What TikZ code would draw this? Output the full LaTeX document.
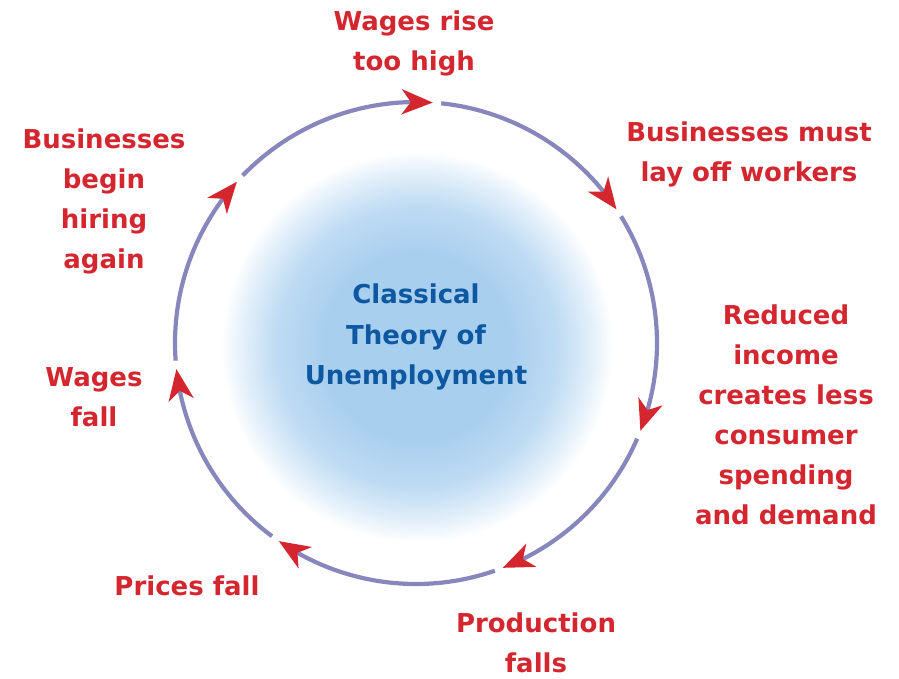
\documentclass[tikz,border=0pt]{standalone}
\usepackage{fontspec}
\setmainfont{DejaVu Sans}
\usetikzlibrary{arrows.meta,bending}

\definecolor{cycleline}{HTML}{8787BD}
\definecolor{cyclered}{HTML}{D4262F}
\definecolor{theoryblue}{HTML}{0E58A2}
\definecolor{glowblue}{HTML}{A9CFEF}

% soft blue glow behind the title (25bp is the edge of the shaded path)
\pgfdeclareradialshading{glow}{\pgfpointorigin}{color(0bp)=(glowblue); color(12bp)=(glowblue); color(18bp)=(glowblue!75!white); color(22.5bp)=(glowblue!30!white); color(25bp)=(white); color(50bp)=(white)}

\tikzset{
	step label/.style={text=cyclered, font=\fontsize{26}{40}\selectfont\bfseries, align=center},
	title label/.style={text=theoryblue, font=\fontsize{26}{40.5}\selectfont\bfseries, align=center},
	cycle arc/.style={draw=cycleline, line width=4.2pt, -{Stealth[length=31pt, width=25pt, inset=9pt, color=cyclered]}}
}

\begin{document}
\begin{tikzpicture}[x=1pt, y=1pt]
	\useasboundingbox (-416,-335) rectangle (483,343);
	\shade[shading=glow] (1,-4) circle (196);
	\node[title label] (theory) at (0,6) {Classical\\Theory of\\Unemployment};

	% starting points of the seven arcs, just past each arrow tip
	\coordinate (a1) at (136:241);
	\coordinate (a2) at (84:241);
	\coordinate (a3) at (31.7:241);
	\coordinate (a4) at (-23.4:241);
	\coordinate (a5) at (-70.9:241);
	\coordinate (a6) at (-126.7:241);
	\coordinate (a7) at (-175.8:241);

	\draw[cycle arc] (a1) arc[start angle=136, end angle=86, radius=241];
	\draw[cycle arc] (a2) arc[start angle=84, end angle=33.7, radius=241];
	\draw[cycle arc] (a3) arc[start angle=31.7, end angle=-21.4, radius=241];
	\draw[cycle arc] (a4) arc[start angle=-23.4, end angle=-68.9, radius=241];
	\draw[cycle arc] (a5) arc[start angle=-70.9, end angle=-124.7, radius=241];
	\draw[cycle arc] (a6) arc[start angle=-126.7, end angle=-173.8, radius=241];
	\draw[cycle arc] (a7) arc[start angle=-175.8, end angle=-222, radius=241];

	\node[step label] (rise) at (-2,300) {Wages rise\\too high};
	\node[step label] (layoff) at (333,189) {Businesses must\\lay off workers};
	\node[step label] (spending) at (370,-72) {Reduced\\income\\creates less\\consumer\\spending\\and demand};
	\node[step label] (production) at (120,-300) {Production\\falls};
	\node[step label] (prices) at (-229,-243) {Prices fall};
	\node[step label] (wagesfall) at (-322,-54) {Wages\\fall};
	\node[step label] (hiring) at (-312,142) {Businesses\\begin\\hiring\\again};
\end{tikzpicture}
\end{document}
